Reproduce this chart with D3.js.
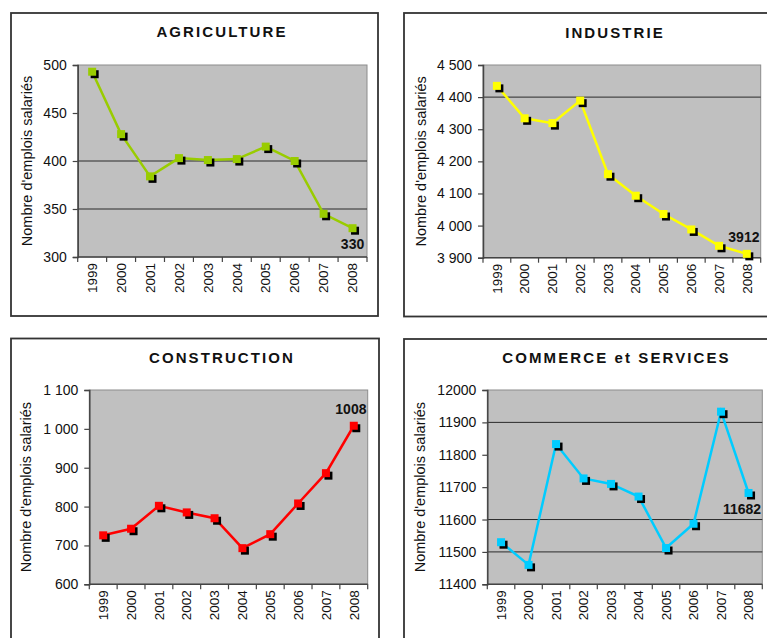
<!DOCTYPE html>
<html>
<head>
<meta charset="utf-8">
<script src="https://cdn.jsdelivr.net/npm/d3@7/dist/d3.min.js"></script>
<style>
  html, body { margin: 0; padding: 0; background: #fff; }
  svg { display: block; font-family: "Liberation Sans", Arial, sans-serif; }
</style>
</head>
<body>
<svg id="chart" width="767" height="638"></svg>
<script>
// Emplois salariés par secteur, 1999-2008
const years = ["1999", "2000", "2001", "2002", "2003", "2004", "2005", "2006", "2007", "2008"];

const agriculture  = [493, 428, 384, 403, 401, 402, 415, 400, 345, 330];
const industrie    = [4435, 4334, 4319, 4389, 4160, 4093, 4036, 3988, 3937, 3912];
const construction = [726, 743, 802, 785, 770, 693, 729, 808, 886, 1008];
const commerce     = [11530, 11460, 11833, 11727, 11710, 11671, 11512, 11587, 11933, 11682];

const agricultureTicks  = [300, 350, 400, 450, 500];
const agricultureLabels = ["300", "350", "400", "450", "500"];
const industrieTicks    = [3900, 4000, 4100, 4200, 4300, 4400, 4500];
const industrieLabels   = ["3 900", "4 000", "4 100", "4 200", "4 300", "4 400", "4 500"];
const constructionTicks  = [600, 700, 800, 900, 1000, 1100];
const constructionLabels = ["600", "700", "800", "900", "1 000", "1 100"];
const commerceTicks  = [11400, 11500, 11600, 11700, 11800, 11900, 12000];
const commerceLabels = ["11400", "11500", "11600", "11700", "11800", "11900", "12000"];

// horizontal rules drawn across each plot area
const agricultureGrid  = [350, 400];
const industrieGrid    = [4400];
const constructionGrid = [];
const commerceGrid     = [11500, 11600, 11900];

const panels = [
  { title: "AGRICULTURE", values: agriculture, ticks: agricultureTicks, labels: agricultureLabels,
    grid: agricultureGrid, color: "#99cc00", labelPos: "below",
    frame: [11, 13, 378, 316], plot: [77.7, 65, 367, 257], titleX: 222, titleY: 37, ylabX: 26.5 },
  { title: "INDUSTRIE", values: industrie, ticks: industrieTicks, labels: industrieLabels,
    grid: industrieGrid, color: "#ffff00", labelPos: "above",
    frame: [404, 13, 770, 316.5], plot: [483, 65, 760.7, 257.7], titleX: 615, titleY: 37.5, ylabX: 421 },
  { title: "CONSTRUCTION", values: construction, ticks: constructionTicks, labels: constructionLabels,
    grid: constructionGrid, color: "#ff0000", labelPos: "above",
    frame: [11, 338.5, 379, 645], plot: [89.3, 390, 367.7, 584.3], titleX: 222, titleY: 362.5, ylabX: 26 },
  { title: "COMMERCE et SERVICES", values: commerce, ticks: commerceTicks, labels: commerceLabels,
    grid: commerceGrid, color: "#00ccff", labelPos: "below",
    frame: [404, 339, 770, 645], plot: [487.3, 390, 762.3, 584.3], titleX: 616.5, titleY: 362.5, ylabX: 420 }
];

const svg = d3.select("#chart");

panels.forEach(p => {
  const g = svg.append("g");
  const [fx0, fy0, fx1, fy1] = p.frame;
  const [px0, py0, px1, py1] = p.plot;

  // outer frame
  g.append("rect")
    .attr("x", fx0).attr("y", fy0)
    .attr("width", fx1 - fx0).attr("height", fy1 - fy0)
    .attr("fill", "#fff").attr("stroke", "#333").attr("stroke-width", 1.8);

  const x = d3.scaleBand().domain(years).range([px0, px1]).padding(0);
  const y = d3.scaleLinear().domain(d3.extent(p.ticks)).range([py1, py0]);

  // plot area
  g.append("rect")
    .attr("x", px0).attr("y", py0)
    .attr("width", px1 - px0).attr("height", py1 - py0)
    .attr("fill", "#c0c0c0").attr("stroke", "#8c8c8c").attr("stroke-width", 1);

  // grid rules
  g.selectAll(".grid").data(p.grid).enter().append("line")
    .attr("x1", px0).attr("x2", px1)
    .attr("y1", d => y(d)).attr("y2", d => y(d))
    .attr("stroke", "#2a2a2a").attr("stroke-width", 1);

  // y axis
  const yAxis = d3.axisLeft(y)
    .tickValues(p.ticks)
    .tickFormat((d, i) => p.labels[i])
    .tickSize(5).tickPadding(6);
  const ya = g.append("g").attr("transform", `translate(${px0},0)`).call(yAxis);
  ya.select(".domain").attr("stroke", "#444").attr("stroke-width", 1.5);
  ya.selectAll(".tick line").attr("stroke", "#444").attr("stroke-width", 1.2);
  ya.selectAll(".tick text").attr("font-size", 14).attr("fill", "#111")
    .attr("font-family", "'Liberation Sans', Arial, sans-serif");

  // x axis: ticks between categories
  const bounds = years.map(d => x(d)).concat([x(years[years.length - 1]) + x.bandwidth()]);
  g.append("line")
    .attr("x1", px0).attr("x2", px1).attr("y1", py1).attr("y2", py1)
    .attr("stroke", "#444").attr("stroke-width", 1.5);
  g.selectAll(".xtick").data(bounds).enter().append("line")
    .attr("x1", d => d).attr("x2", d => d)
    .attr("y1", py1).attr("y2", py1 + 5)
    .attr("stroke", "#444").attr("stroke-width", 1.2);
  g.selectAll(".xlab").data(years).enter().append("text")
    .attr("transform", d => `translate(${x(d) + x.bandwidth() / 2},${py1 + 6}) rotate(-90)`)
    .attr("text-anchor", "end").attr("dy", "0.35em")
    .attr("font-size", 13.5).attr("fill", "#111")
    .text(d => d);

  // titles
  g.append("text")
    .attr("x", p.titleX).attr("y", p.titleY)
    .attr("text-anchor", "middle")
    .attr("font-size", 15).attr("font-weight", "bold")
    .attr("letter-spacing", "2.1px").attr("fill", "#111")
    .text(p.title);

  g.append("text")
    .attr("transform", `translate(${p.ylabX},${(py0 + py1) / 2}) rotate(-90)`)
    .attr("text-anchor", "middle").attr("dy", "0.35em")
    .attr("font-size", 14.5).attr("fill", "#111")
    .text("Nombre d'emplois salariés");

  // series
  const pts = years.map((d, i) => ({ year: d, v: p.values[i] }));
  const line = d3.line()
    .x(d => x(d.year) + x.bandwidth() / 2)
    .y(d => y(d.v));

  g.append("path").datum(pts)
    .attr("d", line)
    .attr("fill", "none").attr("stroke", p.color).attr("stroke-width", 2.5);

  const ms = 8;
  g.selectAll(".shadow").data(pts).enter().append("rect")
    .attr("x", d => x(d.year) + x.bandwidth() / 2 - ms / 2 + 2.5)
    .attr("y", d => y(d.v) - ms / 2 + 2.5)
    .attr("width", ms).attr("height", ms)
    .attr("fill", "#000");
  g.selectAll(".marker").data(pts).enter().append("rect")
    .attr("x", d => x(d.year) + x.bandwidth() / 2 - ms / 2)
    .attr("y", d => y(d.v) - ms / 2)
    .attr("width", ms).attr("height", ms)
    .attr("fill", p.color);

  // value label on the final year
  const last = pts[pts.length - 1];
  const lx = x(last.year) + x.bandwidth() / 2;
  const ly = y(last.v);
  const lbl = g.append("text")
    .attr("x", lx)
    .attr("y", p.labelPos === "above" ? ly - 12 : ly + 21)
    .attr("text-anchor", "middle")
    .attr("font-size", 14).attr("font-weight", "bold").attr("fill", "#111")
    .text(String(last.v));
  const bb = lbl.node().getBBox();
  if (bb.x + bb.width > px1 - 1) {
    lbl.attr("x", lx - (bb.x + bb.width - (px1 - 1)));
  }
});
</script>
</body>
</html>
